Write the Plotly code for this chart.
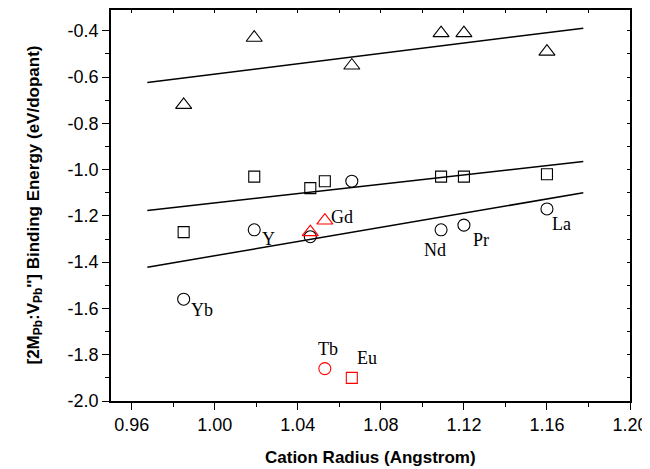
import numpy as np
import plotly.graph_objects as go

# ---- data ----
tri_x = [0.985, 1.019, 1.066, 1.109, 1.120, 1.160]
tri_y = [-0.72, -0.43, -0.55, -0.41, -0.41, -0.49]

sq_x = [0.985, 1.019, 1.046, 1.053, 1.109, 1.120, 1.160]
sq_y = [-1.27, -1.03, -1.08, -1.05, -1.03, -1.03, -1.02]

circ_x = [0.985, 1.019, 1.046, 1.066, 1.109, 1.120, 1.160]
circ_y = [-1.56, -1.26, -1.29, -1.05, -1.26, -1.24, -1.17]

red_tri_x = [1.046, 1.053]
red_tri_y = [-1.27, -1.22]
red_circ_x = [1.053]
red_circ_y = [-1.86]
red_sq_x = [1.066]
red_sq_y = [-1.90]

fit_x_range = [0.9675, 1.1775]

label_names = ["Yb", "Y", "Gd", "Nd", "Pr", "La", "Tb", "Eu"]
label_x = [0.985, 1.019, 1.053, 1.109, 1.120, 1.160, 1.053, 1.066]
label_y = [-1.56, -1.26, -1.22, -1.26, -1.24, -1.17, -1.86, -1.90]
label_dx = [18, 14, 17, -6, 17, 15, 3, 15]
label_dy = [-11, -9, 4, -20, -15, -15, 20, 20]

x_ticks = [0.96, 1.00, 1.04, 1.08, 1.12, 1.16, 1.20]
x_ticktext = ["0.96", "1.00", "1.04", "1.08", "1.12", "1.16", "1.20"]
y_ticks = [-2.0, -1.8, -1.6, -1.4, -1.2, -1.0, -0.8, -0.6, -0.4]
y_ticktext = ["-2.0", "-1.8", "-1.6", "-1.4", "-1.2", "-1.0", "-0.8", "-0.6", "-0.4"]

x_title = "<b>Cation Radius (Angstrom)</b>"
y_title = "<b>[2M<sub>Pb</sub>:V<sub>Pb</sub>''] Binding Energy (eV/dopant)</b>"

fig = go.Figure()

def add_markers(x, y, symbol, color, size):
    fig.add_trace(go.Scatter(
        x=x, y=y, mode="markers", showlegend=False,
        marker=dict(symbol=symbol, size=size, color=color,
                    line=dict(color=color, width=1.1))))

def add_fit(x, y):
    k, b = np.polyfit(x, y, 1)
    xs = np.array(fit_x_range)
    fig.add_trace(go.Scatter(x=xs, y=k * xs + b, mode="lines", showlegend=False,
                             line=dict(color="black", width=1.5)))

add_fit(tri_x, tri_y)
add_fit(sq_x, sq_y)
add_fit(circ_x, circ_y)

add_markers(tri_x, tri_y, "triangle-up-open", "black", 14)
add_markers(sq_x, sq_y, "square-open", "black", 11)
add_markers(circ_x, circ_y, "circle-open", "black", 12)
add_markers(red_tri_x, red_tri_y, "triangle-up-open", "red", 14)
add_markers(red_circ_x, red_circ_y, "circle-open", "red", 12)
add_markers(red_sq_x, red_sq_y, "square-open", "red", 11)

for n, x, y, dx, dy in zip(label_names, label_x, label_y, label_dx, label_dy):
    fig.add_annotation(x=x, y=y, text=n, showarrow=False, xshift=dx, yshift=dy,
                       font=dict(family="Liberation Serif", size=18, color="black"))

xr = [0.95, 1.20]
yr = [-2.0, -0.31]

axis_font = dict(family="Liberation Sans, Arial", size=18, color="black")
title_font = dict(family="Liberation Sans, Arial", size=17, color="black")

fig.add_annotation(xref="paper", yref="paper", x=0.5, y=0, yshift=-56, text=x_title,
                   showarrow=False, xanchor="center", yanchor="middle", font=title_font)
fig.add_annotation(xref="paper", yref="paper", x=0, y=0.5, xshift=-77, text=y_title,
                   textangle=-90, showarrow=False, xanchor="center", yanchor="middle",
                   font=title_font)

# the page body has an 8px default margin, so the figure is sized to fit the window
fig.update_layout(
    width=642, height=461,
    margin=dict(l=103, r=20, t=2, b=68),
    paper_bgcolor="white", plot_bgcolor="white",
    xaxis=dict(range=xr, tickmode="array", tickvals=x_ticks, ticktext=x_ticktext,
               ticks="outside", ticklen=7, tickwidth=1.3, tickcolor="black",
               showline=True, linecolor="black", linewidth=1.5,
               showgrid=False, zeroline=False, tickfont=axis_font,
               minor=dict(dtick=0.02, tick0=0.96, ticks="outside", ticklen=4,
                          tickwidth=1.3, tickcolor="black", showgrid=False)),
    yaxis=dict(range=yr, tickmode="array", tickvals=y_ticks, ticktext=y_ticktext,
               ticks="outside", ticklen=7, tickwidth=1.3, tickcolor="black",
               showline=True, linecolor="black", linewidth=1.5,
               showgrid=False, zeroline=False, tickfont=axis_font,
               minor=dict(dtick=0.1, tick0=-2.0, ticks="outside", ticklen=4,
                          tickwidth=1.3, tickcolor="black", showgrid=False)),
    xaxis2=dict(range=xr, overlaying="x", side="top",
                tickmode="linear", tick0=0.96, dtick=0.02, ticks="inside", ticklen=3,
                tickcolor="black", showticklabels=False, showline=True,
                linecolor="black", linewidth=1.5, showgrid=False, zeroline=False),
    yaxis2=dict(range=yr, overlaying="y", side="right",
                tickmode="linear", tick0=-2.0, dtick=0.1, ticks="inside", ticklen=3,
                tickcolor="black", showticklabels=False, showline=True,
                linecolor="black", linewidth=1.5, showgrid=False, zeroline=False),
)

# invisible trace to activate the mirror axes
fig.add_trace(go.Scatter(x=[xr[0]], y=[yr[0]], xaxis="x2", yaxis="y2", mode="markers",
                         marker=dict(opacity=0), showlegend=False, hoverinfo="skip"))

fig.write_html("out.html")
